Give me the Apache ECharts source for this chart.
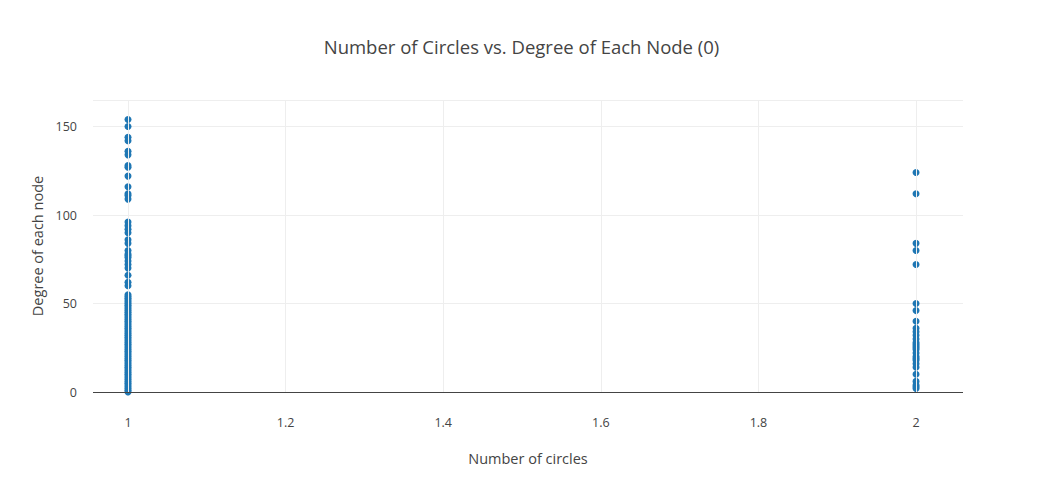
<!DOCTYPE html>
<html><head><meta charset="utf-8">
<script src="https://cdn.jsdelivr.net/npm/echarts@6/dist/echarts.min.js"></script>
<style>html,body{margin:0;background:#fff}#c{width:1043px;height:491px}</style>
</head><body><div id="c"></div>
<script>
var xTicks = [1, 1.2, 1.4, 1.6, 1.8, 2];
var oneCircle = [154, 150, 144, 142, 136, 134, 128, 127, 122, 116, 112, 111, 109, 96, 94, 92, 90, 86, 84, 80, 78, 77, 76, 74, 72, 70, 66, 62, 60, 55];
for (var d = 0; d <= 54; d++) oneCircle.push(d);
var twoCircles = [124, 112, 84, 80, 72, 50, 46, 40, 36, 34, 32, 30, 28, 27, 26, 25, 24, 22, 20, 19, 18, 16, 14, 10, 6, 4, 3, 2];

var points = oneCircle.map(function(v) { return [1, v]; })
  .concat(twoCircles.map(function(v) { return [2, v]; }));

var font = '"Open Sans", sans-serif';
var chart = echarts.init(document.getElementById('c'), null, { renderer: 'svg' });
chart.setOption({
  animation: false,
  title: { text: 'Number of Circles vs. Degree of Each Node (0)', left: 'center', top: 32,
    textStyle: { fontFamily: font, fontSize: 18.5, fontWeight: 'normal', color: '#444' } },
  grid: { left: 93, right: 80, top: 100, bottom: 99 },
  xAxis: {
    type: 'value', min: 0.9556, max: 2.0596,
    name: 'Number of circles', nameLocation: 'middle', nameGap: 59,
    nameTextStyle: { fontFamily: font, fontSize: 14.5, color: '#444' },
    axisLine: { show: false }, axisTick: { show: false }, splitLine: { show: false },
    axisLabel: { customValues: xTicks, fontFamily: font, fontSize: 12.5, color: '#444', margin: 24,
      formatter: function(v) { return String(+v.toFixed(1)); } }
  },
  yAxis: {
    type: 'value', min: 0, max: 165, interval: 50,
    name: 'Degree of each node', nameLocation: 'middle', nameGap: 48,
    nameTextStyle: { fontFamily: font, fontSize: 14.5, color: '#444' },
    axisLine: { show: false }, axisTick: { show: false },
    splitLine: { lineStyle: { color: '#eee' } },
    axisLabel: { fontFamily: font, fontSize: 12.5, color: '#444', margin: 16,
      formatter: function(v) { return v > 160 ? '' : v; } }
  },
  series: [{
    type: 'scatter', data: points, symbolSize: 7,
    itemStyle: { color: '#1f77b4', opacity: 1 },
    markLine: {
      silent: true, symbol: 'none', label: { show: false },
      data: xTicks.map(function(t) { return { xAxis: t, lineStyle: { color: '#eee', type: 'solid', width: 1 } }; })
        .concat([{ yAxis: 0, lineStyle: { color: '#444', type: 'solid', width: 1 } }])
    },
    z: 3
  }]
});
</script></body></html>
